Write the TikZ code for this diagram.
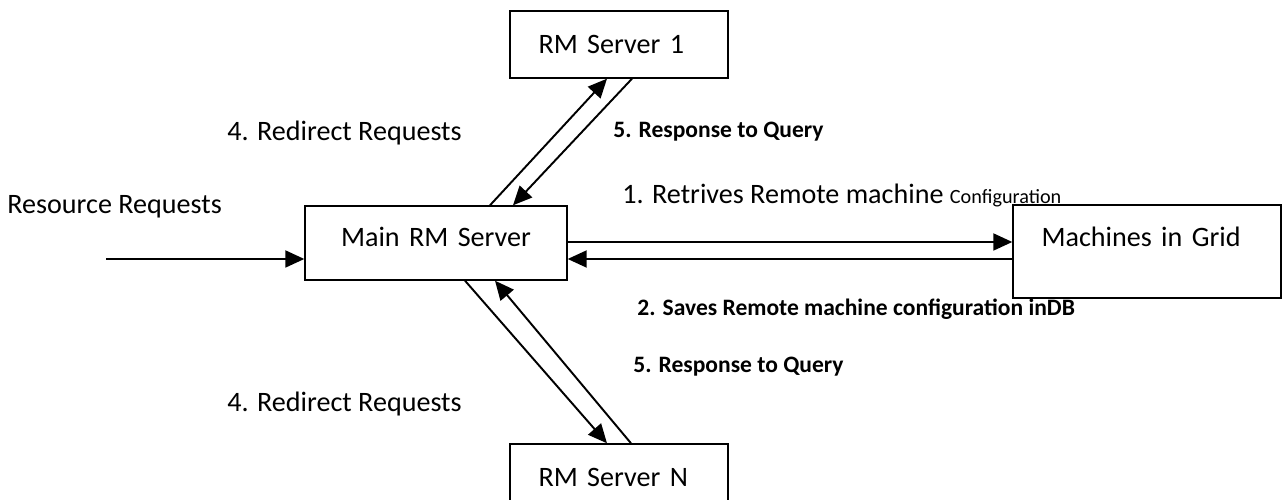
\documentclass[tikz,border=0pt]{standalone}
\usepackage{fontspec}
\setmainfont{Carlito}
\usetikzlibrary{arrows.meta}

\begin{document}
\begin{tikzpicture}
	\tikzstyle{serveur}=[rectangle,draw=black,line width=0.8pt,align=left,
	inner xsep=0.57cm,inner ysep=0pt,text height=0.36cm,text depth=0pt,
	font=\fontsize{16}{19}\selectfont]
	\tikzstyle{etiquette}=[anchor=base west,inner sep=0pt,
	font=\fontsize{16}{19}\selectfont]
	\tikzstyle{note}=[anchor=base west,inner sep=0pt,
	font=\fontsize{13.4}{16}\selectfont\bfseries]

	\useasboundingbox (0,0) rectangle (25.66,10);

	\node[serveur,text width=3.22cm,minimum height=1.34cm] (rm1) at (12.38,9.11) {RM Server 1};
	\node[serveur,align=center,inner xsep=0.4cm,text width=4.44cm,
	minimum height=1.48cm,text depth=0.2cm] (main) at (8.72,5.14) {Main RM Server};
	\node[serveur,text width=4.22cm,minimum height=1.86cm,text depth=0.54cm] (grid) at (22.94,4.97) {Machines in Grid};
	\node[serveur,text width=3.22cm,minimum height=1.34cm] (rmn) at (12.38,0.45) {RM Server N};

	\node[etiquette] (resreq) at (0.14,5.72) {Resource Requests};
	\node[etiquette] (redir1) at (4.54,7.18) {4. Redirect Requests};
	\node[etiquette] (redirn) at (4.54,1.76) {4. Redirect Requests};
	\node[etiquette] (retrive) at (12.44,5.92) {1. Retrives Remote machine
	{\fontsize{11.5}{14}\selectfont Configuration}};
	\node[note] (resp1) at (12.26,7.25) {5. Response to Query};
	\node[note] (saves) at (12.74,3.69) {2. Saves Remote machine configuration inDB};
	\node[note] (respn) at (12.66,2.55) {5. Response to Query};

	\tikzstyle{suite}=[-{Triangle[length=0.38cm,width=0.34cm]},line width=1.1pt]

	\coordinate (entree) at (2.12,4.82);
	\draw[suite] (entree) -- (entree -| main.west);
	\draw[suite] ([xshift=1.08cm]main.north) -- ([xshift=-0.24cm]rm1.south);
	\draw[suite] ([xshift=0.26cm]rm1.south) -- ([xshift=1.54cm]main.north);
	\draw[suite] ([xshift=0.58cm]main.south) -- ([xshift=-0.24cm]rmn.north);
	\draw[suite] ([xshift=0.24cm]rmn.north) -- ([xshift=1.18cm]main.south);
	\draw[suite] ([yshift=0.02cm]main.east) -- ([yshift=0.02cm]main.east -| grid.west);
	\draw[suite] ([yshift=-0.32cm]main.east -| grid.west) -- ([yshift=-0.32cm]main.east);
\end{tikzpicture}
\end{document}
